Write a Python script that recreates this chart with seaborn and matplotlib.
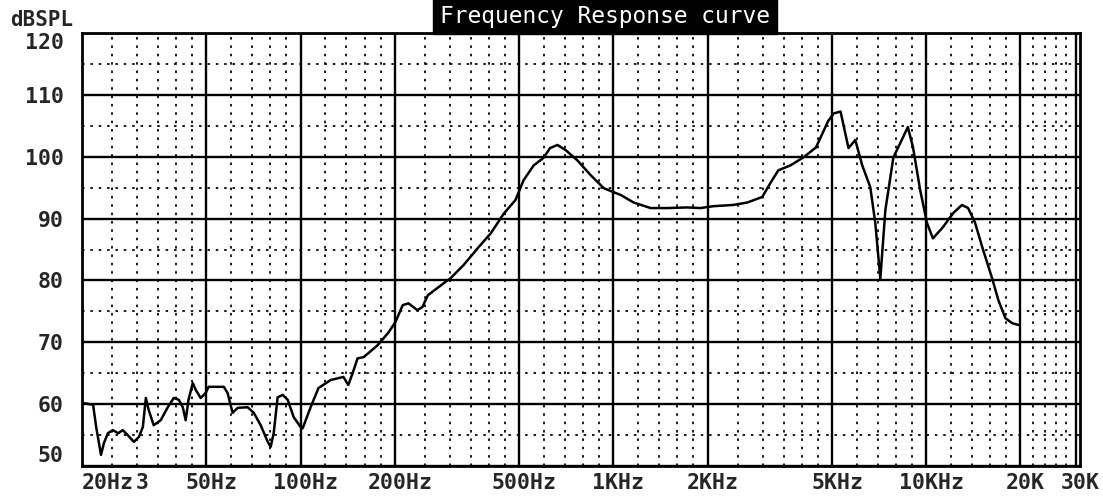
import numpy as np
import pandas as pd
import seaborn as sns
import matplotlib.pyplot as plt
from matplotlib.transforms import ScaledTranslation

# Frequency response readings (Hz, dB SPL)
freq = [20, 21.7, 22.2, 23.0, 23.5, 24.2, 25.1, 26.1, 27.0, 28.0,
        29.3, 30.4, 31.3, 32.0, 32.7, 33.9, 35.7, 37.6, 39.3, 40.8,
        42.0, 42.9, 43.8, 45.2, 46.2, 47.9, 49.7, 50.8, 56.8, 58.4,
        60.6, 62.9, 67.7, 70.8, 74.5, 78.5, 80.2, 82.0, 84.4, 87.6,
        90.9, 95.0, 100, 101.5, 107.6, 114, 124.7, 137, 142, 146.6,
        152, 159, 176, 191, 201, 212, 221, 236, 245, 255,
        274, 302, 332, 368, 405, 446, 486, 516, 556, 597,
        627, 662, 702, 767, 846, 932, 1056, 1160, 1314, 1487,
        1720, 1897, 2085, 2414, 2680, 2990, 3170, 3365, 3680, 4050,
        4440, 4670, 4860, 5060, 5320, 5640, 5930, 6240, 6620, 6870,
        7130, 7400, 7850, 8400, 8730, 9070, 9560, 10050, 10500, 11300,
        12200, 13000, 13600, 14300, 15200, 16200, 17000, 17900, 18800, 19700]
spl = [60.2, 59.9, 56.3, 51.8, 53.7, 55.3, 55.8, 55.3, 55.8, 55.0,
       53.9, 54.7, 56.3, 61.0, 59.0, 56.6, 57.4, 59.5, 61.0, 60.7,
       59.5, 57.4, 60.7, 63.4, 62.3, 61.0, 61.8, 62.8, 62.8, 61.8,
       58.6, 59.4, 59.5, 58.6, 56.6, 53.9, 53.1, 55.3, 61.1, 61.5,
       60.7, 57.9, 56.3, 56.1, 59.5, 62.6, 63.9, 64.4, 63.1, 65.0,
       67.4, 67.6, 69.5, 71.6, 73.3, 76.0, 76.3, 75.2, 75.7, 77.6,
       78.8, 80.4, 82.5, 85.2, 87.6, 90.8, 93.0, 96.2, 98.6, 99.8,
       101.4, 101.9, 101.1, 99.4, 97.0, 94.9, 93.8, 92.6, 91.7, 91.7,
       91.8, 91.7, 92.0, 92.2, 92.6, 93.5, 95.7, 97.8, 98.6, 99.9,
       101.5, 103.9, 105.8, 107.0, 107.3, 101.4, 102.7, 98.6, 95.1, 89.3,
       80.3, 91.4, 99.9, 103.0, 104.8, 101.5, 94.6, 89.3, 86.8, 88.6,
       90.9, 92.2, 91.7, 89.4, 84.9, 80.5, 76.8, 73.9, 73.1, 72.8]

# Tick labels and grid positions
x_label_pos = [20, 30, 50, 100, 200, 500, 1000, 2000, 5000, 10000, 20000, 30000]
x_labels = ['20Hz', '3', '50Hz', '100Hz', '200Hz', '500Hz', '1KHz', '2KHz',
            '5KHz', '10KHz', '20K', '30K']
x_major = [50, 100, 200, 500, 1000, 2000, 5000, 10000, 20000, 30000]
x_minor = [25, 30, 35, 40, 45, 60, 70, 80, 90, 120, 140, 160, 180,
           250, 300, 350, 400, 450, 600, 700, 800, 900,
           1200, 1400, 1600, 1800, 2500, 3000, 3500, 4000, 4500,
           6000, 7000, 8000, 9000, 12000, 14000, 16000, 18000,
           22000, 24000, 26000, 28000]
y_major = [50, 60, 70, 80, 90, 100, 110, 120]
y_minor = [55, 65, 75, 85, 95, 105, 115]

df = pd.DataFrame({'freq': freq, 'spl': spl})

sns.set_style('white')
mono = 'DejaVu Sans Mono'

fig = plt.figure(figsize=(11.03, 4.99), dpi=100)
ax = fig.add_axes([82 / 1103, 1 - 466 / 499, 998 / 1103, 433 / 499])

# grid
dot = (0, (1.3, 3.0))
for f in x_minor:
    ax.axvline(f, color='#1a1a1a', lw=1.4, ls=dot, zorder=1)
for v in y_minor:
    ax.axhline(v, color='#1a1a1a', lw=1.4, ls=dot, zorder=1)
for f in x_major:
    ax.axvline(f, color='black', lw=1.7, zorder=1)
for v in y_major:
    ax.axhline(v, color='black', lw=1.7, zorder=1)

sns.lineplot(data=df, x='freq', y='spl', color='black', lw=1.8,
             estimator=None, ax=ax, zorder=3)

ax.set_xscale('log')
ax.set_xlim(20, 31000)
ax.set_ylim(50, 120)
ax.set_xlabel('')
ax.set_ylabel('')

ax.set_xticks(x_label_pos, labels=x_labels)
ax.xaxis.set_minor_locator(plt.NullLocator())
ax.set_yticks(y_major, labels=[str(v) for v in y_major])
ax.tick_params(axis='x', length=0, pad=5)
ax.tick_params(axis='y', length=0, pad=13)
for lab in ax.get_xticklabels() + ax.get_yticklabels():
    lab.set_fontfamily(mono)
    lab.set_fontweight('bold')
    lab.set_fontsize(15.5)
xlabs = ax.get_xticklabels()
xlabs[0].set_ha('left')
shift = ScaledTranslation(5 / 100, 0, fig.dpi_scale_trans)
for lab in xlabs[1:]:
    lab.set_transform(lab.get_transform() + shift)
ylabs = ax.get_yticklabels()
ylabs[0].set_va('bottom')
ylabs[-1].set_va('top')

for sp in ax.spines.values():
    sp.set_color('black')
    sp.set_linewidth(2)

fig.text(10 / 1103, 1 - 20 / 499, 'dBSPL', family=mono, weight='bold',
         fontsize=15, ha='left', va='center')
fig.text(605 / 1103, 1 - 16 / 499, 'Frequency Response curve', family=mono,
         fontsize=16.5, color='white', ha='center', va='center',
         bbox=dict(facecolor='black', edgecolor='black', boxstyle='square,pad=0.3'))

fig.savefig('out.png', dpi=100, facecolor='white')
